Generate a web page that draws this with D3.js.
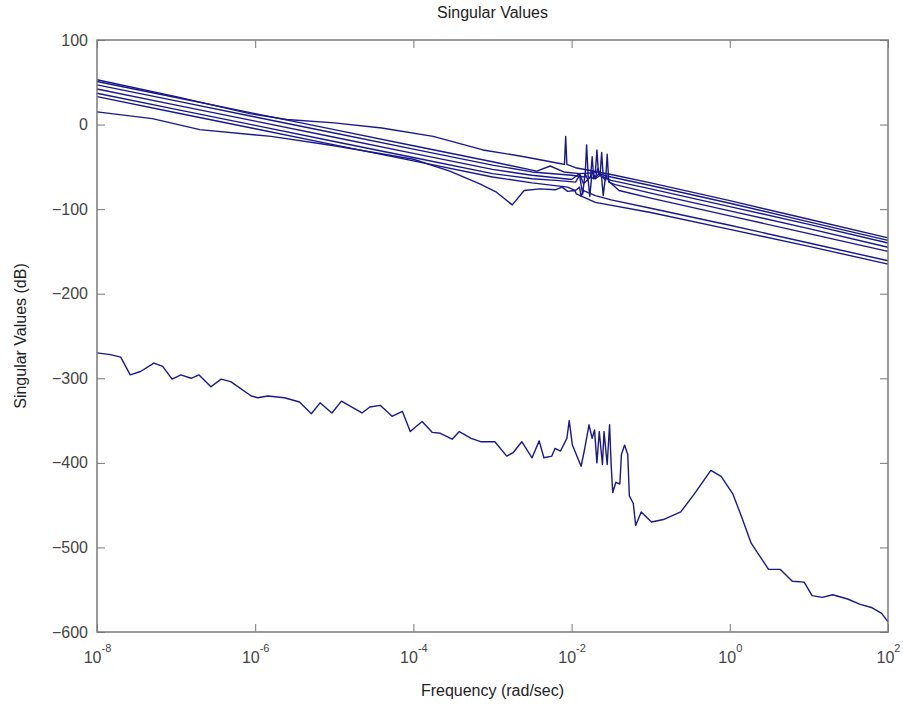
<!DOCTYPE html>
<html>
<head>
<meta charset="utf-8">
<script src="https://cdn.jsdelivr.net/npm/d3@7"></script>
<style>
  body { margin: 0; background: #fff; }
  text { font-family: "Liberation Sans", Arial, Helvetica, sans-serif; }
</style>
</head>
<body>
<div id="chart"></div>
<script>
// each point is [log10 of frequency, singular value in dB]
var sv1 = [[-8, 53], [-7, 33], [-6.07, 13], [-5.6, 6], [-5, 2], [-4.4, -4], [-3.75, -14], [-3.12, -30],
  [-2.6, -38], [-2.15, -46], [-2.09, -47], [-2.075, -14], [-2.06, -47], [-1.95, -51], [-1.5, -59],
  [-1, -69], [0, -90], [1, -112], [2, -134]];
var sv2 = [[-8, 51], [-7, 32], [-6, 13], [-5, -6], [-4, -25], [-3, -44], [-2.44, -55], [-2.27, -49],
  [-2.1, -56], [-1.9, -58], [-1.7, -57], [-1.68, -30], [-1.66, -58], [-1.5, -62], [-1, -72],
  [0, -93], [1, -115], [2, -137]];
var sv3 = [[-8, 47], [-7, 28], [-6, 9], [-5, -10], [-4, -29], [-3, -48], [-2.5, -56], [-2, -60],
  [-1.83, -62], [-1.81, -24], [-1.79, -62], [-1.7, -64], [-1.64, -60], [-1.62, -33], [-1.6, -62],
  [-1.5, -66], [-1, -76], [0, -97], [1, -118], [2, -140]];
var sv4 = [[-8, 42], [-7, 23], [-6, 4], [-5, -15], [-4, -34], [-3, -53], [-2.5, -60], [-2, -65],
  [-1.9, -58], [-1.85, -70], [-1.76, -62], [-1.74, -38], [-1.72, -64], [-1.65, -58], [-1.57, -66],
  [-1.55, -35], [-1.53, -68], [-1.45, -71], [-1, -81], [0, -102], [1, -123], [2, -145]];
var sv5 = [[-8, 37], [-7, 18], [-6, -1], [-5, -20], [-4, -39], [-3, -58], [-2.5, -64], [-2.2, -66],
  [-1.95, -68], [-1.9, -60], [-1.86, -82], [-1.83, -58], [-1.79, -66], [-1.77, -85], [-1.74, -55],
  [-1.7, -63], [-1.67, -52], [-1.62, -63], [-1.6, -84], [-1.57, -60], [-1.52, -68], [-1.4, -78],
  [-1, -87], [0, -108], [1, -129], [2, -150]];
var sv6 = [[-8, 33], [-7, 14], [-6, -5], [-5, -24], [-4, -43], [-3, -62], [-2.5, -69], [-2.05, -74],
  [-1.95, -78], [-1.9, -74], [-1.88, -85], [-1.85, -78], [-1.7, -84], [-1.5, -89], [-1, -99],
  [0, -119], [1, -140], [2, -161]];
var sv7 = [[-8, 15], [-7.3, 7], [-6.7, -6], [-5.8, -14], [-5, -25], [-4, -41], [-3.54, -55],
  [-3.16, -70], [-2.95, -80], [-2.75, -95], [-2.6, -78], [-2.4, -76], [-2.2, -77], [-2.12, -74],
  [-2.05, -79], [-1.96, -78], [-1.94, -82], [-1.7, -92], [-1, -104], [0, -124], [1, -144], [2, -165]];

// smallest singular value, the noisy one at the bottom
var svMin = [[-8.00, -270], [-7.83, -272], [-7.70, -275], [-7.58, -296], [-7.45, -292], [-7.28, -282],
  [-7.17, -286], [-7.05, -301], [-6.94, -296], [-6.81, -300], [-6.71, -296], [-6.56, -310],
  [-6.43, -301], [-6.31, -304], [-6.05, -321], [-5.97, -323], [-5.84, -321], [-5.63, -323],
  [-5.44, -328], [-5.29, -342], [-5.18, -329], [-5.03, -341], [-4.91, -327], [-4.65, -341],
  [-4.55, -334], [-4.42, -332], [-4.27, -345], [-4.14, -339], [-4.04, -363], [-3.89, -351],
  [-3.76, -364], [-3.66, -365], [-3.51, -372], [-3.42, -363], [-3.27, -371], [-3.15, -375],
  [-2.97, -375], [-2.82, -392], [-2.74, -388], [-2.63, -375], [-2.50, -394], [-2.41, -374],
  [-2.35, -394], [-2.25, -392], [-2.21, -383], [-2.14, -386], [-2.06, -371], [-2.03, -350],
  [-1.99, -379], [-1.88, -404], [-1.84, -386], [-1.78, -355], [-1.74, -371], [-1.71, -361],
  [-1.68, -400], [-1.65, -363], [-1.61, -402], [-1.59, -363], [-1.55, -402], [-1.52, -355],
  [-1.50, -402], [-1.48, -435], [-1.44, -423], [-1.39, -425], [-1.37, -390], [-1.33, -379],
  [-1.29, -390], [-1.27, -439], [-1.22, -448], [-1.19, -474], [-1.12, -458], [-0.99, -470],
  [-0.84, -467], [-0.62, -458], [-0.45, -437], [-0.24, -409], [-0.11, -416], [0.04, -437],
  [0.15, -464], [0.27, -495], [0.49, -526], [0.64, -526], [0.79, -540], [0.94, -541],
  [1.04, -557], [1.17, -559], [1.30, -556], [1.49, -561], [1.64, -567], [1.79, -571],
  [1.92, -578], [2.00, -588]];

var allSeries = [sv1, sv2, sv3, sv4, sv5, sv6, sv7, svMin];

var xTickExps = [-8, -6, -4, -2, 0, 2];
var yTicks = [100, 0, -100, -200, -300, -400, -500, -600];

const LEFT = 97, RIGHT = 888, TOP = 40, BOTTOM = 632;
const TICK_LEN = 8;
const LINE_COLOR = '#18188c';
const TEXT_COLOR = '#444';

var svg = d3
  .select('#chart')
  .append('svg')
  .attr('width', 903)
  .attr('height', 717);

var xScale = d3.scaleLog().domain([1e-8, 1e2]).range([LEFT, RIGHT]);
var yScale = d3.scaleLinear().domain([-600, 100]).range([BOTTOM, TOP]);

var lineGen = d3
  .line()
  .x((d) => xScale(Math.pow(10, d[0])))
  .y((d) => yScale(d[1]));

// curves first, frame on top
svg
  .append('g')
  .selectAll('path')
  .data(allSeries)
  .enter()
  .append('path')
  .attr('d', lineGen)
  .attr('fill', 'none')
  .attr('stroke', LINE_COLOR)
  .attr('stroke-width', 1.4)
  .attr('stroke-linejoin', 'round');

var xTickVals = xTickExps.map((e) => Math.pow(10, e));

function styleAxis(g) {
  g.select('.domain').remove();
  g.selectAll('.tick line').attr('stroke', '#777').attr('stroke-width', 1);
}

// bottom axis, ticks pointing inward, labels drawn by hand for superscripts
var xAxisG = svg
  .append('g')
  .attr('transform', `translate(0,${BOTTOM})`)
  .call(d3.axisBottom(xScale).tickValues(xTickVals).tickSize(-TICK_LEN).tickFormat(''))
  .call(styleAxis);

xAxisG.selectAll('.tick text').remove();
xAxisG
  .selectAll('.tick')
  .append('text')
  .attr('fill', TEXT_COLOR)
  .attr('font-size', 16)
  .attr('y', 31)
  .attr('text-anchor', 'middle')
  .each(function (d) {
    var t = d3.select(this);
    t.append('tspan').text('10');
    t.append('tspan')
      .attr('font-size', 11)
      .attr('dy', -11)
      .text(Math.round(Math.log10(d)));
  });

svg
  .append('g')
  .attr('transform', `translate(0,${TOP})`)
  .call(d3.axisTop(xScale).tickValues(xTickVals).tickSize(-TICK_LEN).tickFormat(''))
  .call(styleAxis);

svg
  .append('g')
  .attr('transform', `translate(${LEFT},0)`)
  .call(d3.axisLeft(yScale).tickValues(yTicks).tickSize(-TICK_LEN).tickPadding(9))
  .call(styleAxis)
  .call((g) => g.selectAll('.tick text').attr('fill', TEXT_COLOR).attr('font-size', 16));

svg
  .append('g')
  .attr('transform', `translate(${RIGHT},0)`)
  .call(d3.axisRight(yScale).tickValues(yTicks).tickSize(-TICK_LEN).tickFormat(''))
  .call(styleAxis);

// axes box
svg
  .append('rect')
  .attr('x', LEFT)
  .attr('y', TOP)
  .attr('width', RIGHT - LEFT)
  .attr('height', BOTTOM - TOP)
  .attr('fill', 'none')
  .attr('stroke', '#7a7a7a')
  .attr('stroke-width', 1.5);

svg
  .append('text')
  .attr('x', (LEFT + RIGHT) / 2)
  .attr('y', 18)
  .attr('text-anchor', 'middle')
  .attr('font-size', 16)
  .attr('fill', '#222')
  .text('Singular Values');

svg
  .append('text')
  .attr('x', (LEFT + RIGHT) / 2)
  .attr('y', 696)
  .attr('text-anchor', 'middle')
  .attr('font-size', 16)
  .attr('fill', '#222')
  .text('Frequency (rad/sec)');

svg
  .append('text')
  .attr('transform', `translate(26,${(TOP + BOTTOM) / 2}) rotate(-90)`)
  .attr('text-anchor', 'middle')
  .attr('font-size', 16)
  .attr('fill', '#222')
  .text('Singular Values (dB)');
</script>
</body>
</html>
